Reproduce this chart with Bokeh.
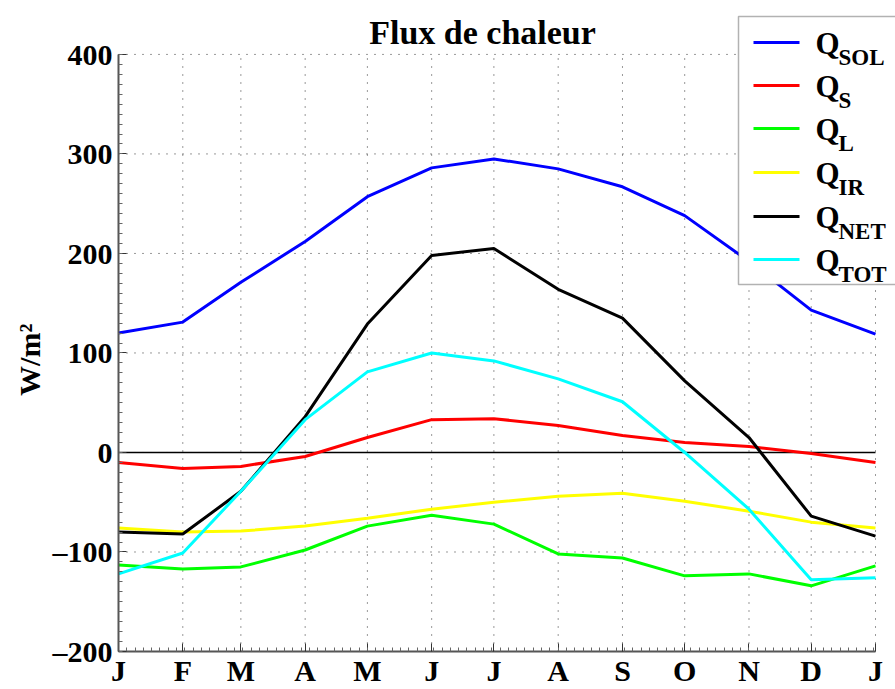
import numpy as np
from bokeh.plotting import figure
from bokeh.models import FixedTicker, Label, BoxAnnotation, Range1d
from bokeh.embed import file_html
from bokeh.resources import INLINE

# ---- data ----
month_days = [0, 31, 59, 90, 120, 151, 181, 212, 243, 273, 304, 334, 365]
month_labels = ["J", "F", "M", "A", "M", "J", "J", "A", "S", "O", "N", "D", "J"]

q_sol = [120, 131, 171, 212, 257, 286, 295, 285, 267, 238, 192, 143, 119]
q_s = [-10, -16, -14, -4, 15, 33, 34, 27, 17, 10, 6, -1, -10]
q_l = [-113, -117, -115, -98, -74, -63, -72, -102, -106, -124, -122, -134, -114]
q_ir = [-76, -80, -79, -74, -66, -57, -50, -44, -41, -49, -59, -70, -76]
q_net = [-80, -82, -39, 36, 129, 198, 205, 164, 135, 72, 15, -64, -84]
q_tot = [-122, -101, -39, 33, 81, 100, 92, 74, 51, 0, -57, -128, -126]

series = [
    (q_sol, "#0000ff", "SOL"),
    (q_s, "#ff0000", "S"),
    (q_l, "#00ff00", "L"),
    (q_ir, "#ffff00", "IR"),
    (q_net, "#000000", "NET"),
    (q_tot, "#00ffff", "TOT"),
]

y_ticks = [-200, -100, 0, 100, 200, 300, 400]

FONT = "Liberation Serif"

# ---- layout (pixels) ----
W, H = 895, 689
AX_L, AX_R, AX_T, AX_B = 118, 875, 54, 652   # axes box on the page
X0, X1 = month_days[0], month_days[-1]
Y0, Y1 = y_ticks[0], y_ticks[-1]
px_x = (AX_R - AX_L) / (X1 - X0)
px_y = (AX_B - AX_T) / (Y1 - Y0)
# frame extends to the right/top edges of the canvas so that the legend/title are not clipped
x_end = X1 + (W - AX_R) / px_x
y_end = Y1 + AX_T / px_y

p = figure(width=W, height=H, output_backend="svg", toolbar_location=None,
           x_range=Range1d(X0, x_end), y_range=Range1d(Y0, y_end),
           min_border_left=AX_L, min_border_right=0, min_border_top=0,
           min_border_bottom=H - AX_B)
p.outline_line_color = None
p.background_fill_color = "white"
p.border_fill_color = "white"
p.grid.visible = False

for ax in (p.xaxis[0], p.yaxis[0]):
    ax.axis_line_color = "#555555"
    ax.axis_line_width = 2
    ax.major_tick_in = 8
    ax.major_tick_out = 0
    ax.minor_tick_in = 4
    ax.minor_tick_out = 0
    ax.major_tick_line_color = "#333333"
    ax.minor_tick_line_color = "#666666"
    ax.major_label_text_font = FONT
    ax.major_label_text_font_style = "bold"
    ax.major_label_text_font_size = "30px"
    ax.major_label_text_color = "black"

p.xaxis.bounds = (X0, X1)
p.yaxis.bounds = (Y0, Y1)
p.xaxis.ticker = FixedTicker(ticks=month_days, minor_ticks=list(range(0, 366, 4)))
p.xaxis.major_label_overrides = {d: l for d, l in zip(month_days, month_labels)}
p.xaxis.major_label_standoff = 2
p.yaxis.ticker = FixedTicker(ticks=y_ticks, minor_ticks=list(range(-200, 401, 10)))
p.yaxis.major_label_overrides = {v: (str(v).replace("-", "\u2013")) for v in y_ticks}
p.yaxis.major_label_standoff = 6
# trailing no-break spaces shift the centred (rotated) label downwards, as in the original
p.yaxis.axis_label = "W/m\u00b2" + "\u00a0" * 9
p.yaxis.axis_label_text_font = FONT
p.yaxis.axis_label_text_font_style = "bold"
p.yaxis.axis_label_text_font_size = "30px"
p.yaxis.axis_label_text_color = "black"
p.yaxis.axis_label_standoff = 4

# dotted grid limited to the axes box
p.segment(x0=month_days, x1=month_days, y0=[Y0] * len(month_days), y1=[Y1] * len(month_days),
          line_color="#333333", line_dash="1 7", line_width=1)
p.segment(x0=[X0] * len(y_ticks), x1=[X1] * len(y_ticks), y0=y_ticks, y1=y_ticks,
          line_color="#333333", line_dash="1 7", line_width=1)

# zero line
p.segment(x0=[X0], x1=[X1], y0=[0], y1=[0], line_color="black", line_width=1.5)

for vals, col, _ in series:
    p.line(month_days, vals, line_color=col, line_width=3)

# title
p.add_layout(Label(x=482, y=32, x_units="canvas", y_units="canvas", text="Flux de chaleur",
                   text_font=FONT, text_font_style="bold", text_font_size="34px",
                   text_color="black", text_align="center", text_baseline="alphabetic"))

# legend
p.add_layout(BoxAnnotation(left=738, right=910, top=16, bottom=284,
                           left_units="canvas", right_units="canvas",
                           top_units="canvas", bottom_units="canvas",
                           fill_color="white", fill_alpha=1.0,
                           line_color="black", line_width=1.5))
row_y = [42, 85, 128, 172, 216, 259]
for (vals, col, sub), yy in zip(series, row_y):
    p.add_layout(BoxAnnotation(left=753, right=799, top=yy - 1.5, bottom=yy + 1.5,
                               left_units="canvas", right_units="canvas",
                               top_units="canvas", bottom_units="canvas",
                               fill_color=col, fill_alpha=1.0, line_color=None))
    p.add_layout(Label(x=815, y=yy + 1, x_units="canvas", y_units="canvas", text="Q",
                       text_font=FONT, text_font_style="bold", text_font_size="31px",
                       text_color="black", text_align="left", text_baseline="alphabetic"))
    p.add_layout(Label(x=838, y=yy + 15, x_units="canvas", y_units="canvas", text=sub,
                       text_font=FONT, text_font_style="bold", text_font_size="23px",
                       text_color="black", text_align="left", text_baseline="alphabetic"))

open("out.html", "w").write(file_html(p, INLINE))
